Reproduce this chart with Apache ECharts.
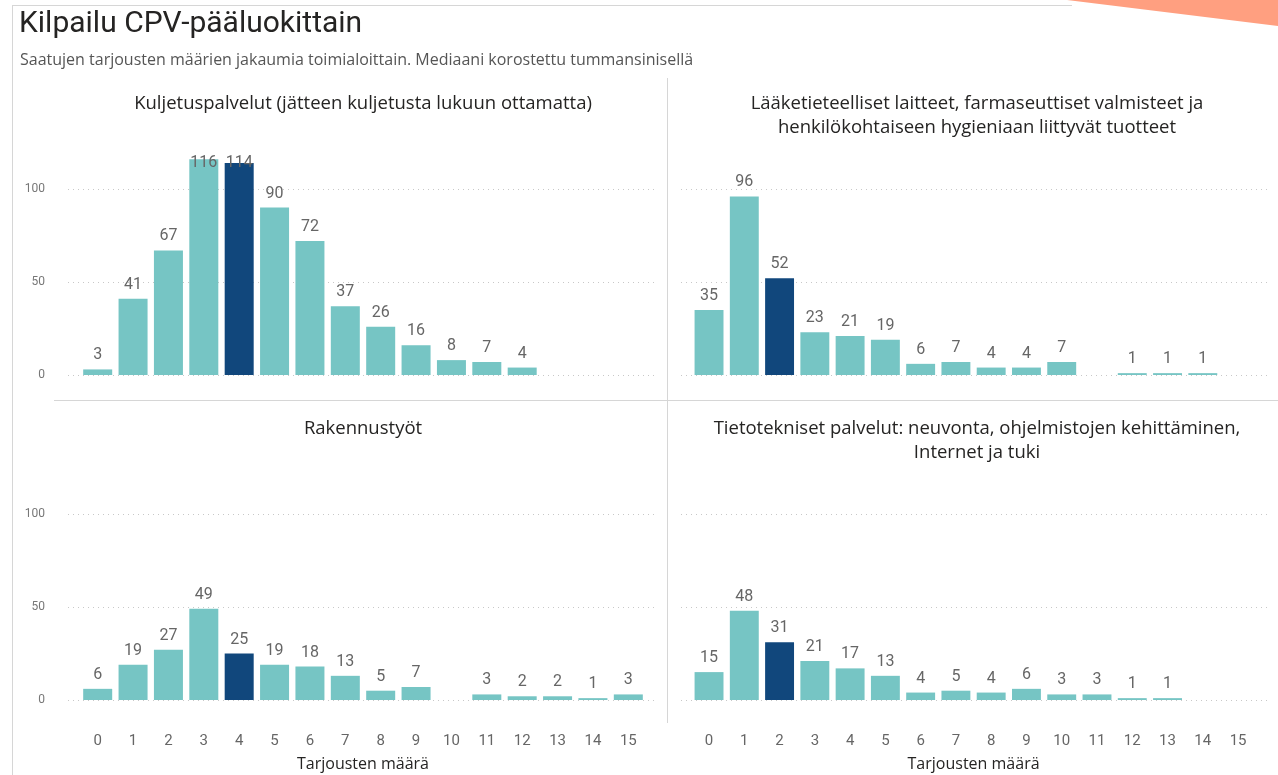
<!DOCTYPE html>
<html>
<head>
<meta charset="utf-8">
<script src="https://cdn.jsdelivr.net/npm/echarts@6/dist/echarts.min.js"></script>
<style>
html,body{margin:0;padding:0;background:#fff;}
#chart{width:1278px;height:775px;}
</style>
</head>
<body>
<div id="chart"></div>
<script>
// ---- data ----
const categories = ['0','1','2','3','4','5','6','7','8','9','10','11','12','13','14','15'];
const panelTitles = [
  'Kuljetuspalvelut (jätteen kuljetusta lukuun ottamatta)',
  'Lääketieteelliset laitteet, farmaseuttiset valmisteet ja\nhenkilökohtaiseen hygieniaan liittyvät tuotteet',
  'Rakennustyöt',
  'Tietotekniset palvelut: neuvonta, ohjelmistojen kehittäminen,\nInternet ja tuki'
];
const kuljetus   = [3, 41, 67, 116, 114, 90, 72, 37, 26, 16, 8, 7, 4, null, null, null];
const laaketiede = [35, 96, 52, 23, 21, 19, 6, 7, 4, 4, 7, null, 1, 1, 1, null];
const rakennus   = [6, 19, 27, 49, 25, 19, 18, 13, 5, 7, null, 3, 2, 2, 1, 3];
const tietotek   = [15, 48, 31, 21, 17, 13, 4, 5, 4, 6, 3, 3, 1, 1, null, null];
const medianIdx  = [4, 2, 4, 2];
const yTicks     = [0, 50, 100];
const xAxisName  = 'Tarjousten määrä';
const mainTitle  = 'Kilpailu CPV-pääluokittain';
const subTitle   = 'Saatujen tarjousten määrien jakaumia toimialoittain. Mediaani korostettu tummansinisellä';

const seriesData = [kuljetus, laaketiede, rakennus, tietotek];

// ---- layout ----
const TEAL = '#76C5C4', NAVY = '#11477C';
const YMAX = 120;
const PLOT_H = 223.2;
const panels = [
  {bgL: 68,  bgR: 655,  barL: 80,    barW: 566, zeroY: 375, showY: true,  showX: false, cx: 363},
  {bgL: 681, bgR: 1270, barL: 691.4, barW: 564.3, zeroY: 375, showY: false, showX: false, cx: 977},
  {bgL: 68,  bgR: 655,  barL: 80,    barW: 566, zeroY: 700, showY: true,  showX: true,  cx: 363},
  {bgL: 681, bgR: 1270, barL: 691.4, barW: 564.3, zeroY: 700, showY: false, showX: true,  cx: 977}
];
const titleTops = [92, 92, 417, 417];

const grids = [], xAxes = [], yAxes = [], series = [], titles = [];

titles.push({text: mainTitle, left: 19, top: 9, padding: 0,
  textStyle: {fontFamily: 'Roboto', fontSize: 30, lineHeight: 30, fontWeight: 'normal', color: '#252423'}});
titles.push({text: subTitle, left: 20, top: 52, padding: 0,
  textStyle: {fontFamily: 'Open Sans', fontSize: 16, lineHeight: 16, fontWeight: 'normal', color: '#555'}});

panels.forEach((p, i) => {
  const top = p.zeroY - PLOT_H;
  // background grid (gridlines + y labels)
  grids.push({left: p.bgL, top: top, width: p.bgR - p.bgL, height: PLOT_H, containLabel: false});
  xAxes.push({type: 'value', gridIndex: grids.length - 1, show: false, min: 0, max: 1});
  yAxes.push({type: 'value', gridIndex: grids.length - 1, min: 0, max: YMAX, interval: 50,
    axisLine: {show: false}, axisTick: {show: false},
    axisLabel: {show: p.showY, color: '#777', fontSize: 12, fontFamily: 'Roboto', margin: 23,
      showMaxLabel: false,
      formatter: v => yTicks.includes(v) ? String(v) : ''},
    splitLine: {show: true, showMaxLine: false, lineStyle: {color: '#c8c8c8', type: [1, 4], width: 1}}});
  // bar grid
  grids.push({left: p.barL, top: top, width: p.barW, height: PLOT_H, containLabel: false});
  const gi = grids.length - 1;
  xAxes.push({type: 'category', gridIndex: gi, data: categories,
    axisLine: {show: false}, axisTick: {show: false},
    axisLabel: {show: p.showX, color: '#666', fontSize: 15, fontFamily: 'Roboto', margin: 34},
    name: p.showX ? xAxisName : '', nameLocation: 'middle', nameGap: 56,
    nameTextStyle: {color: '#252423', fontSize: 16, fontFamily: 'Open Sans'}});
  yAxes.push({type: 'value', gridIndex: gi, min: 0, max: YMAX, show: false, splitLine: {show: false}});
  const data = seriesData[i].map((v, k) => {
    if (v === null) return null;
    const item = {value: v, itemStyle: {color: k === medianIdx[i] ? NAVY : TEAL}};
    // labels for bars reaching the top of the plot are pushed inside the plot area
    if (v > 108) item.label = {position: 'insideTop', distance: -((YMAX - v) * PLOT_H / YMAX) + 3};
    return item;
  });
  series.push({type: 'bar', xAxisIndex: xAxes.length - 1, yAxisIndex: yAxes.length - 1,
    data: data, barCategoryGap: '18%', animation: false,
    label: {show: true, position: 'top', distance: 6, color: '#666', fontSize: 16, fontFamily: 'Roboto'}});
  titles.push({text: panelTitles[i], left: p.cx, top: titleTops[i], textAlign: 'center', padding: 0,
    textStyle: {fontFamily: 'Open Sans', fontSize: 18.5, fontWeight: 'normal', color: '#252423', lineHeight: 24}});
});

const chart = echarts.init(document.getElementById('chart'), null, {renderer: 'canvas'});
chart.setOption({
  animation: false,
  title: titles,
  grid: grids,
  xAxis: xAxes,
  yAxis: yAxes,
  series: series,
  graphic: [
    {type: 'polygon', shape: {points: [[1067, 0], [1278, 0], [1278, 26]]}, style: {fill: '#FF9F80'}, silent: true},
    {type: 'line', shape: {x1: 12, y1: 5.5, x2: 1072, y2: 5.5}, style: {stroke: '#d6d6d6', lineWidth: 1}},
    {type: 'line', shape: {x1: 12.5, y1: 5, x2: 12.5, y2: 775}, style: {stroke: '#d6d6d6', lineWidth: 1}},
    {type: 'line', shape: {x1: 54, y1: 400.5, x2: 1278, y2: 400.5}, style: {stroke: '#d6d6d6', lineWidth: 1}},
    {type: 'line', shape: {x1: 667.5, y1: 78, x2: 667.5, y2: 723}, style: {stroke: '#d6d6d6', lineWidth: 1}}
  ]
});
</script>
</body>
</html>
